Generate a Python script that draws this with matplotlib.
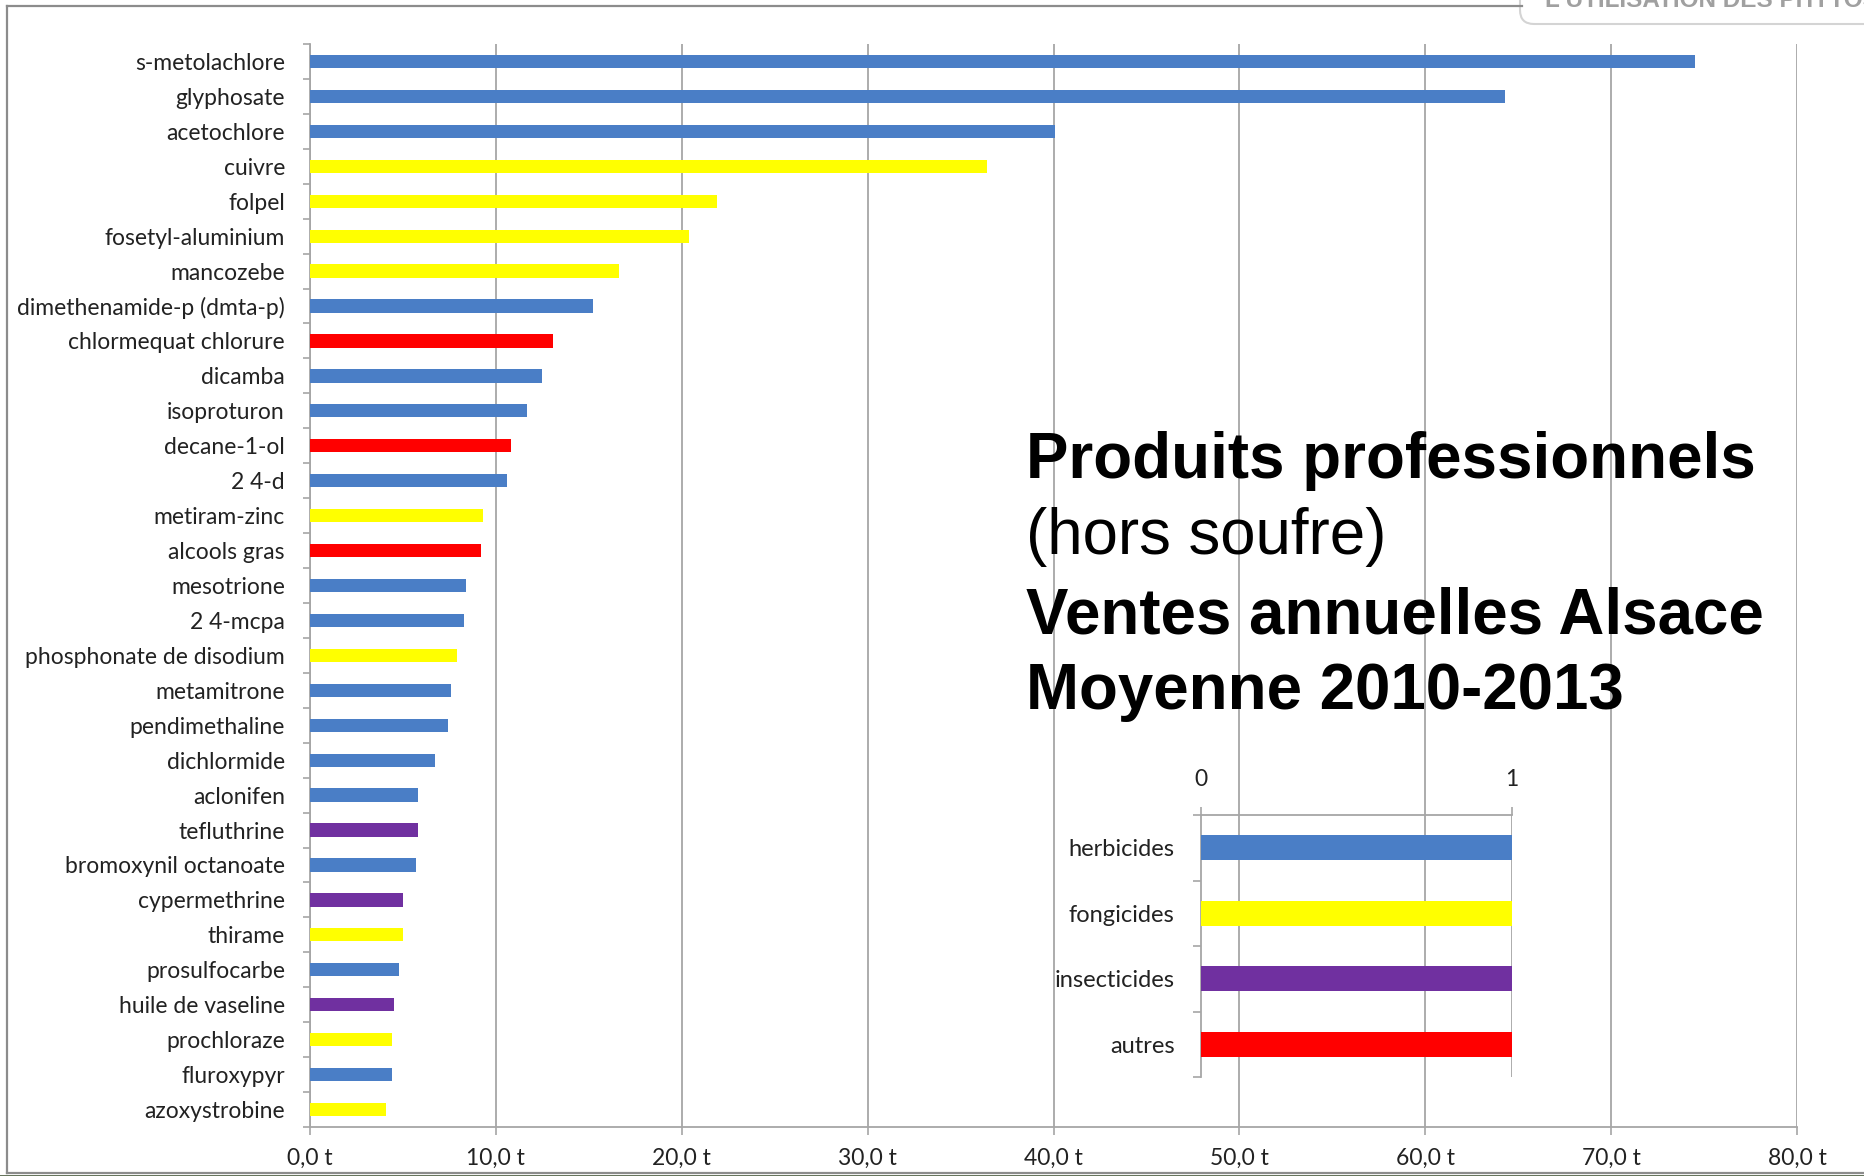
import numpy as np
import matplotlib
matplotlib.use("Agg")
import matplotlib.pyplot as plt
import matplotlib.patches as mpatches
from matplotlib.lines import Line2D

# ventes annuelles (tonnes), moyenne 2010-2013
produits = ["s-metolachlore", "glyphosate", "acetochlore", "cuivre", "folpel",
            "fosetyl-aluminium", "mancozebe", "dimethenamide-p (dmta-p)",
            "chlormequat chlorure", "dicamba", "isoproturon", "decane-1-ol",
            "2 4-d", "metiram-zinc", "alcools gras", "mesotrione", "2 4-mcpa",
            "phosphonate de disodium", "metamitrone", "pendimethaline",
            "dichlormide", "aclonifen", "tefluthrine", "bromoxynil octanoate",
            "cypermethrine", "thirame", "prosulfocarbe", "huile de vaseline",
            "prochloraze", "fluroxypyr", "azoxystrobine"]
tonnes = [74.5, 64.3, 40.1, 36.4, 21.9, 20.4, 16.6, 15.2, 13.1, 12.5, 11.7,
          10.8, 10.6, 9.3, 9.2, 8.4, 8.3, 7.9, 7.6, 7.4, 6.7, 5.8, 5.8, 5.7,
          5.0, 5.0, 4.8, 4.5, 4.4, 4.4, 4.1]
types = ["h", "h", "h", "f", "f", "f", "f", "h", "a", "h", "h", "a", "h", "f",
         "a", "h", "h", "f", "h", "h", "h", "h", "i", "h", "i", "f", "h", "i",
         "f", "h", "f"]

legende = ["herbicides", "fongicides", "insecticides", "autres"]
legende_cles = ["h", "f", "i", "a"]
couleurs = {"h": "#4A7EC6", "f": "#FFFF00", "i": "#7030A0", "a": "#FF0000"}

xticks = np.arange(0, 81, 10)
xlabels = [f"{v:.1f}".replace(".", ",") + " t" for v in xticks]

GRIS = "#A6A6A6"
LABEL_FONT = "Lato"

fig = plt.figure(figsize=(18.65, 11.76), dpi=100)

# ---- main chart
ax = fig.add_axes([310 / 1865, 1 - 1127 / 1176, (1797 - 310) / 1865, (1127 - 44) / 1176])
ax.set_facecolor("none")
y = np.arange(len(produits))
ax.barh(y, tonnes, height=0.38, color=[couleurs[t] for t in types], zorder=3)
ax.set_ylim(len(produits) - 0.5, -0.5)
ax.set_xlim(0, 80)
ax.set_xticks(xticks)
ax.set_xticklabels(xlabels, fontsize=16.5, family=LABEL_FONT, color="#222222")
ax.set_yticks(y)
ax.set_yticklabels(produits, fontsize=16.5, family=LABEL_FONT, color="#222222")
ax.tick_params(axis="y", length=0, pad=18)
ax.set_yticks(np.arange(-0.5, len(produits)), minor=True)
ax.tick_params(axis="y", which="minor", length=5, color=GRIS, width=1.2)
ax.tick_params(axis="x", length=6, color=GRIS, width=1.2, pad=9)
ax.xaxis.grid(True, color=GRIS, linewidth=1.3, zorder=0)
for s in ["top", "right"]:
    ax.spines[s].set_visible(False)
for s in ["left", "bottom"]:
    ax.spines[s].set_color(GRIS)
    ax.spines[s].set_linewidth(1.3)

# ---- title block
titre = [("Produits professionnels", "bold", 478),
         ("(hors soufre)", "normal", 554),
         ("Ventes annuelles Alsace", "bold", 633),
         ("Moyenne 2010-2013", "bold", 709)]
for txt, w, ypx in titre:
    fig.text(1026 / 1865, 1 - ypx / 1176, txt, fontsize=45.8, fontweight=w,
             family="Liberation Sans", va="baseline", ha="left", color="black")

# ---- colour legend as a small bar chart
axl = fig.add_axes([1201 / 1865, 1 - 1077 / 1176, (1512 - 1201) / 1865, (1077 - 815) / 1176])
axl.set_facecolor("none")
yl = np.arange(len(legende))
axl.barh(yl, [1] * len(legende), height=0.38,
         color=[couleurs[k] for k in legende_cles], zorder=3)
axl.set_ylim(len(legende) - 0.5, -0.5)
axl.set_xlim(0, 1)
axl.xaxis.tick_top()
axl.set_xticks([0, 1])
axl.set_xticklabels(["0", "1"], fontsize=16.5, family=LABEL_FONT, color="#222222")
axl.tick_params(axis="x", length=6, color=GRIS, width=1.2, pad=12)
axl.set_yticks(yl)
axl.set_yticklabels(legende, fontsize=17, family=LABEL_FONT, color="#222222")
axl.tick_params(axis="y", length=0, pad=19)
axl.set_yticks(np.arange(-0.5, len(legende)), minor=True)
axl.tick_params(axis="y", which="minor", length=6, color=GRIS, width=1.2)
axl.axvline(1, color=GRIS, linewidth=1.3, zorder=0)
for s in ["bottom", "right"]:
    axl.spines[s].set_visible(False)
for s in ["left", "top"]:
    axl.spines[s].set_color(GRIS)
    axl.spines[s].set_linewidth(1.3)

# ---- slide frame and clipped header tab
tr = fig.dpi_scale_trans
fig.add_artist(Line2D([0.07, 0.07], [0.03, 11.70], transform=tr, color="#8C8C8C", lw=1.6))
fig.add_artist(Line2D([0.07, 15.22], [11.70, 11.70], transform=tr, color="#8C8C8C", lw=1.6))
fig.add_artist(Line2D([0.07, 18.65], [0.03, 0.03], transform=tr, color="#8C8C8C", lw=1.6))
fig.add_artist(Line2D([0, 18.65], [0.005, 0.005], transform=tr, color="#55654A", lw=2))
tab = mpatches.FancyBboxPatch((15.2, 11.52), 4.0, 1.0, transform=tr,
                              boxstyle="round,pad=0,rounding_size=0.14",
                              facecolor="white", edgecolor="#D4D4D4", lw=1.5)
fig.add_artist(tab)
fig.text(15.45 / 18.65, 1 - 7 / 1176, "L'UTILISATION DES PHYTOS", fontsize=17.5,
         fontweight="bold", family="Liberation Sans", color="#A0A0A0",
         va="baseline", ha="left")

fig.savefig("out.png", dpi=100, facecolor="white")
